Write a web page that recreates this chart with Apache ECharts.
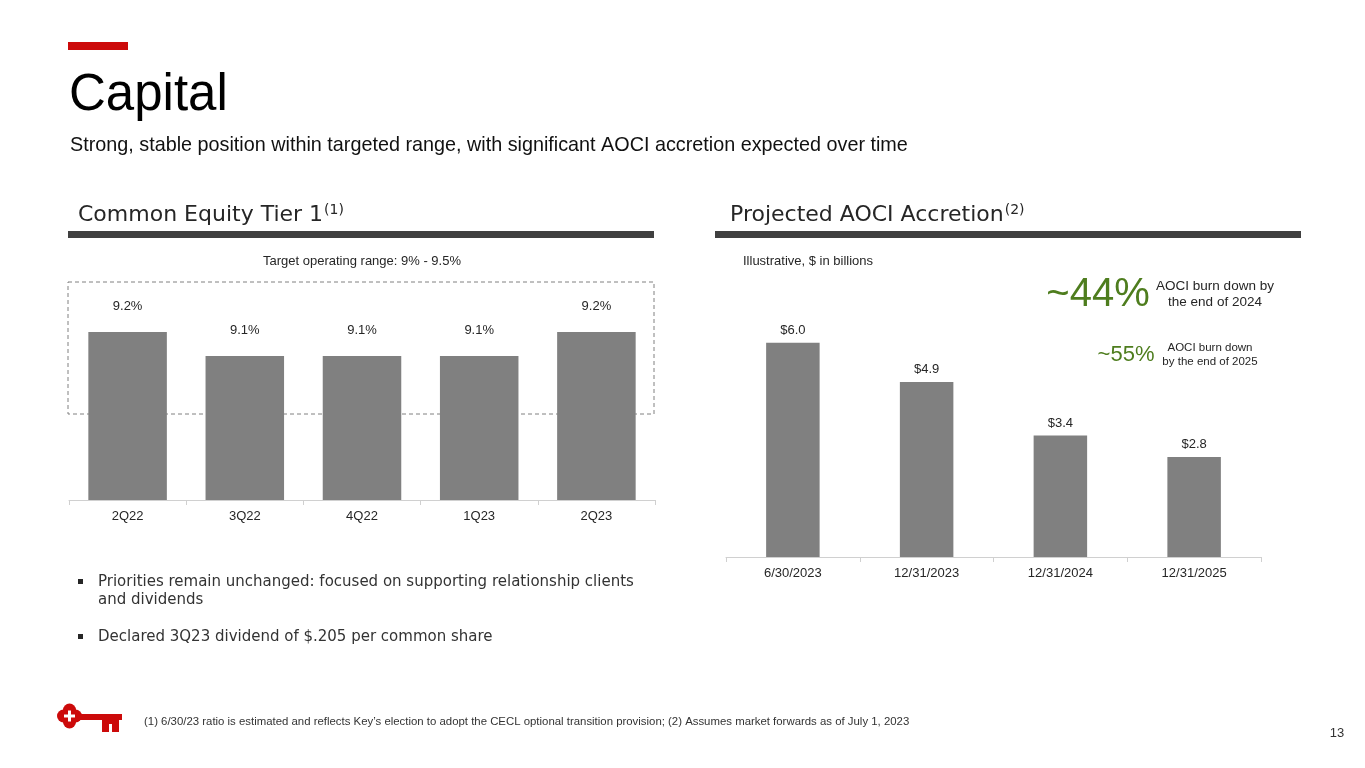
<!DOCTYPE html>
<html>
<head>
<meta charset="utf-8">
<script src="https://cdn.jsdelivr.net/npm/echarts@6/dist/echarts.min.js"></script>
<style>
html,body{margin:0;padding:0;background:#fff;}
#chart{width:1365px;height:768px;}
</style>
</head>
<body>
<div id="chart"></div>
<script>
// ---- data ----
const cet1Categories = ['2Q22', '3Q22', '4Q22', '1Q23', '2Q23'];
const cet1Values = [9.2, 9.1, 9.1, 9.1, 9.2];
const aociCategories = ['6/30/2023', '12/31/2023', '12/31/2024', '12/31/2025'];
const aociValues = [6.0, 4.9, 3.4, 2.8];

const FONT = '"Liberation Sans", Arial, sans-serif';
const HFONT = '"DejaVu Sans", sans-serif';
const GREEN = '#4E7D1E';
const RED = '#CC0A0A';
const TXT = '#262626';

const chart = echarts.init(document.getElementById('chart'), null, {renderer: 'canvas'});

const text = (x, y, t, size, opts = {}) => ({
  type: 'text', x, y, silent: true,
  style: Object.assign({text: t, fontSize: size, fontFamily: FONT, fill: TXT,
    textAlign: 'left', textVerticalAlign: 'middle'}, opts)
});

const option = {
  backgroundColor: '#fff',
  animation: false,
  grid: [
    {left: 69, top: 260, width: 586, height: 240},
    {left: 726, top: 307, width: 535, height: 250}
  ],
  xAxis: [
    {type: 'category', gridIndex: 0, data: cet1Categories,
      axisLine: {lineStyle: {color: '#d0d0d0'}},
      axisTick: {show: true, length: 5, lineStyle: {color: '#d0d0d0'}},
      axisLabel: {color: TXT, fontSize: 13, fontFamily: FONT, margin: 10}},
    {type: 'category', gridIndex: 1, data: aociCategories,
      axisLine: {lineStyle: {color: '#d0d0d0'}},
      axisTick: {show: true, length: 5, lineStyle: {color: '#d0d0d0'}},
      axisLabel: {color: TXT, fontSize: 13, fontFamily: FONT, margin: 10}}
  ],
  yAxis: [
    {type: 'value', gridIndex: 0, min: 8.5, max: 9.5, show: false, splitLine: {show: false}},
    {type: 'value', gridIndex: 1, min: 0, max: 7, show: false, splitLine: {show: false}}
  ],
  series: [
    {type: 'bar', xAxisIndex: 0, yAxisIndex: 0, data: cet1Values, barWidth: '67%',
      itemStyle: {color: '#808080'},
      label: {show: true, position: 'top', distance: 19, color: TXT, fontSize: 13, fontFamily: FONT,
        formatter: p => p.value.toFixed(1) + '%'}},
    {type: 'bar', xAxisIndex: 1, yAxisIndex: 1, data: aociValues, barWidth: '40%',
      itemStyle: {color: '#808080'},
      label: {show: true, position: 'top', distance: 6, color: TXT, fontSize: 13, fontFamily: FONT,
        formatter: p => '$' + p.value.toFixed(1)}}
  ],
  graphic: [
    // red accent bar
    {type: 'rect', shape: {x: 68, y: 42, width: 60, height: 8}, style: {fill: RED}, silent: true},
    text(69, 96, 'Capital', 51, {fill: '#000'}),
    text(70, 146, 'Strong, stable position within targeted range, with significant AOCI accretion expected over time', 19.8, {fill: '#111'}),
    // section headers
    {type: 'text', x: 78, y: 215, silent: true, style: {
      rich: {a: {fontSize: 22, fontFamily: HFONT, fill: TXT}, s: {fontSize: 14, fontFamily: HFONT, fill: TXT, padding: [0, 0, 9, 1]}},
      text: '{a|Common Equity Tier 1}{s|(1)}', textVerticalAlign: 'middle'}},
    {type: 'rect', shape: {x: 68, y: 231, width: 586, height: 7}, style: {fill: '#404040'}, silent: true},
    {type: 'text', x: 730, y: 215, silent: true, style: {
      rich: {a: {fontSize: 22, fontFamily: HFONT, fill: TXT}, s: {fontSize: 14, fontFamily: HFONT, fill: TXT, padding: [0, 0, 9, 1]}},
      text: '{a|Projected AOCI Accretion}{s|(2)}', textVerticalAlign: 'middle'}},
    {type: 'rect', shape: {x: 715, y: 231, width: 586, height: 7}, style: {fill: '#404040'}, silent: true},
    // chart subtitles
    text(362, 261, 'Target operating range: 9% - 9.5%', 13, {textAlign: 'center'}),
    text(743, 261, 'Illustrative, $ in billions', 13),
    // target range box
    {type: 'rect', shape: {x: 68, y: 282, width: 586, height: 132}, silent: true, z: 10,
      style: {fill: 'none', stroke: '#808080', lineWidth: 1, lineDash: [4, 3]}},
    // callouts
    text(1098, 295, '~44%', 40, {fill: GREEN, textAlign: 'center'}),
    text(1215, 286, 'AOCI burn down by', 13.5, {textAlign: 'center'}),
    text(1215, 302, 'the end of 2024', 13.5, {textAlign: 'center'}),
    text(1126, 355, '~55%', 22, {fill: GREEN, textAlign: 'center'}),
    text(1210, 348, 'AOCI burn down', 11.5, {textAlign: 'center'}),
    text(1210, 362, 'by the end of 2025', 11.5, {textAlign: 'center'}),
    // bullets
    {type: 'rect', shape: {x: 78, y: 579, width: 5, height: 5}, style: {fill: TXT}, silent: true},
    text(98, 582, 'Priorities remain unchanged: focused on supporting relationship clients', 15, {fill: '#333', fontFamily: HFONT}),
    text(98, 600, 'and dividends', 15, {fill: '#333', fontFamily: HFONT}),
    {type: 'rect', shape: {x: 78, y: 634, width: 5, height: 5}, style: {fill: TXT}, silent: true},
    text(98, 637, 'Declared 3Q23 dividend of $.205 per common share', 15, {fill: '#333', fontFamily: HFONT}),
    // logo (key)
    {type: 'group', silent: true, children: [
      {type: 'circle', shape: {cx: 63.5, cy: 716, r: 6.5}, style: {fill: RED}},
      {type: 'circle', shape: {cx: 75.5, cy: 716, r: 6.5}, style: {fill: RED}},
      {type: 'circle', shape: {cx: 69.5, cy: 710, r: 6.5}, style: {fill: RED}},
      {type: 'circle', shape: {cx: 69.5, cy: 722, r: 6.5}, style: {fill: RED}},
      {type: 'rect', shape: {x: 63, y: 709.5, width: 13, height: 13}, style: {fill: RED}},
      {type: 'rect', shape: {x: 68, y: 710.5, width: 3, height: 11}, style: {fill: '#fff'}},
      {type: 'rect', shape: {x: 64, y: 714.5, width: 11, height: 3}, style: {fill: '#fff'}},
      {type: 'rect', shape: {x: 80, y: 714, width: 42, height: 6}, style: {fill: RED}},
      {type: 'rect', shape: {x: 102, y: 719, width: 17, height: 13}, style: {fill: RED}},
      {type: 'rect', shape: {x: 109, y: 724, width: 3, height: 8}, style: {fill: '#fff'}}
    ]},
    // footer
    text(144, 722, '(1) 6/30/23 ratio is estimated and reflects Key\u2019s election to adopt the CECL optional transition provision; (2) Assumes market forwards as of July 1, 2023', 11.4, {fill: '#333'}),
    text(1337, 733, '13', 13, {textAlign: 'center', fill: '#333'})
  ]
};
chart.setOption(option);
</script>
</body>
</html>
